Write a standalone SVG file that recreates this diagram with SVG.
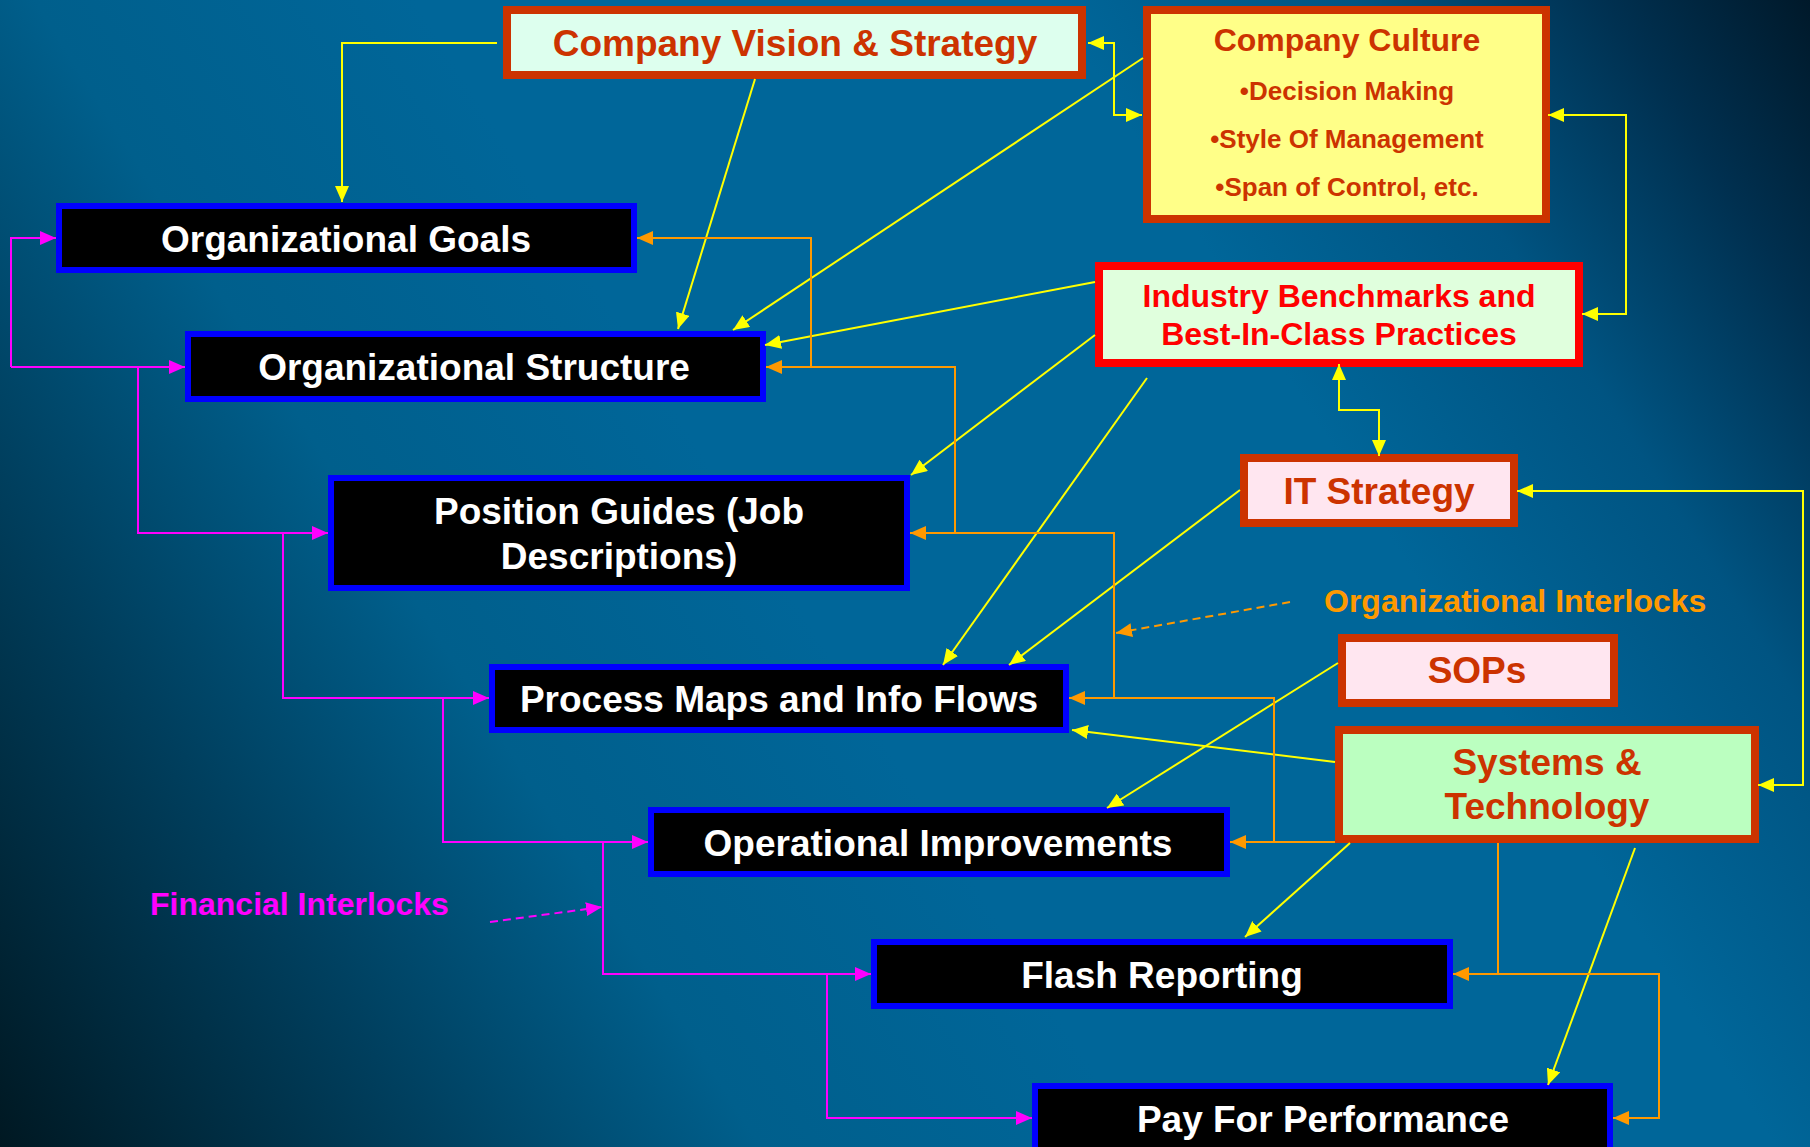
<svg xmlns="http://www.w3.org/2000/svg" width="1810" height="1147" viewBox="0 0 1810 1147">
  <defs>
    <linearGradient id="bg" gradientUnits="userSpaceOnUse" x1="0" y1="1147" x2="1810" y2="0">
      <stop offset="0" stop-color="#001822"/>
      <stop offset="0.17" stop-color="#003f5e"/>
      <stop offset="0.3" stop-color="#005f8c"/>
      <stop offset="0.45" stop-color="#006699"/>
      <stop offset="0.7" stop-color="#006699"/>
      <stop offset="0.82" stop-color="#005482"/>
      <stop offset="0.92" stop-color="#003050"/>
      <stop offset="1" stop-color="#00192a"/>
    </linearGradient>
    <marker id="ay" viewBox="0 0 16 14" refX="16" refY="7" markerWidth="16" markerHeight="14" markerUnits="userSpaceOnUse" orient="auto-start-reverse">
      <path d="M0,0 L16,7 L0,14 z" fill="#FFFF00"/>
    </marker>
    <marker id="ao" viewBox="0 0 16 14" refX="16" refY="7" markerWidth="16" markerHeight="14" markerUnits="userSpaceOnUse" orient="auto">
      <path d="M0,0 L16,7 L0,14 z" fill="#FF9900"/>
    </marker>
    <marker id="am" viewBox="0 0 16 14" refX="16" refY="7" markerWidth="16" markerHeight="14" markerUnits="userSpaceOnUse" orient="auto">
      <path d="M0,0 L16,7 L0,14 z" fill="#FF00FF"/>
    </marker>
  </defs>
  <style>
    text { font-family: "Liberation Sans", Arial, Helvetica, sans-serif; font-weight: bold; text-anchor: middle; }
    .dark rect { fill: #000000; stroke: #0000FF; stroke-width: 6; }
    .dark text { fill: #FFFFFF; font-size: 37px; }
    .warm rect { stroke: #CC3300; stroke-width: 8; }
    .warm text { fill: #CC3300; font-size: 37px; }
    .y { fill: none; stroke: #FFFF00; stroke-width: 2; marker-end: url(#ay); }
    .yy { fill: none; stroke: #FFFF00; stroke-width: 2; marker-start: url(#ay); marker-end: url(#ay); }
    .o { fill: none; stroke: #FF9900; stroke-width: 2; marker-end: url(#ao); }
    .m { fill: none; stroke: #FF00FF; stroke-width: 2; marker-end: url(#am); }
    .dash { stroke-dasharray: 8 5; }
    .label { font-size: 32px; text-anchor: start; }
  </style>

  <rect x="0" y="0" width="1810" height="1147" fill="url(#bg)"/>

  <!-- upper (warm) nodes -->
  <g id="company-vision" class="warm">
    <rect x="507" y="10" width="575" height="65" fill="#DDFFEE"/>
    <text x="795" y="56">Company Vision &amp; Strategy</text>
  </g>
  <g id="company-culture" class="warm">
    <rect x="1147" y="10" width="399" height="209" fill="#FFFF88"/>
    <text x="1347" y="51" style="font-size:32px">Company Culture</text>
    <text x="1347" y="100" style="font-size:26px">•Decision Making</text>
    <text x="1347" y="148" style="font-size:26px">•Style Of Management</text>
    <text x="1347" y="196" style="font-size:26px">•Span of Control, etc.</text>
  </g>
  <g id="industry-benchmarks" class="warm">
    <rect x="1099" y="266" width="480" height="97" fill="#E0FFDD" style="stroke:#FF0000"/>
    <text x="1339" y="307" style="font-size:32px;fill:#FF0000">Industry Benchmarks and</text>
    <text x="1339" y="345" style="font-size:32px;fill:#FF0000">Best-In-Class Practices</text>
  </g>
  <g id="it-strategy" class="warm">
    <rect x="1244" y="458" width="270" height="65" fill="#FFE6F0"/>
    <text x="1379" y="504">IT Strategy</text>
  </g>
  <g id="sops" class="warm">
    <rect x="1342" y="638" width="272" height="65" fill="#FFE6F0"/>
    <text x="1477" y="683">SOPs</text>
  </g>
  <g id="systems-technology" class="warm">
    <rect x="1339" y="730" width="416" height="109" fill="#BBFFC0"/>
    <text x="1547" y="775">Systems &amp;</text>
    <text x="1547" y="819">Technology</text>
  </g>

  <!-- cascade of organisational nodes -->
  <g id="org-goals" class="dark">
    <rect x="59" y="206" width="575" height="64"/>
    <text x="346" y="252">Organizational Goals</text>
  </g>
  <g id="org-structure" class="dark">
    <rect x="188" y="334" width="575" height="65"/>
    <text x="474" y="380">Organizational Structure</text>
  </g>
  <g id="position-guides" class="dark">
    <rect x="331" y="478" width="576" height="110"/>
    <text x="619" y="524">Position Guides (Job</text>
    <text x="619" y="569">Descriptions)</text>
  </g>
  <g id="process-maps" class="dark">
    <rect x="492" y="667" width="574" height="63"/>
    <text x="779" y="712">Process Maps and Info Flows</text>
  </g>
  <g id="operational-improvements" class="dark">
    <rect x="651" y="810" width="576" height="64"/>
    <text x="938" y="856">Operational Improvements</text>
  </g>
  <g id="flash-reporting" class="dark">
    <rect x="874" y="942" width="576" height="64"/>
    <text x="1162" y="988">Flash Reporting</text>
  </g>
  <g id="pay-for-performance" class="dark">
    <rect x="1035" y="1086" width="575" height="70"/>
    <text x="1323" y="1132">Pay For Performance</text>
  </g>

  <!-- interlock labels -->
  <g id="organizational-interlocks">
    <text class="label" x="1324" y="612" fill="#FF9900">Organizational Interlocks</text>
  </g>
  <g id="financial-interlocks">
    <text class="label" x="150" y="915" fill="#FF00FF">Financial Interlocks</text>
  </g>

  <g id="connectors">
    <!-- yellow influence lines -->
    <path class="y" d="M497,43 H342 V202"/>
    <path class="y" d="M755,79 L678,329"/>
    <path class="y" d="M1143,58 L733,330"/>
    <path class="yy" d="M1088,43 H1114 V115 H1142"/>
    <path class="y" d="M1095,282 L765,345"/>
    <path class="y" d="M1095,335 L911,475"/>
    <path class="y" d="M1147,378 L943,665"/>
    <path class="y" d="M1240,490 L1009,665"/>
    <path class="yy" d="M1339,364 V410 H1379 V456"/>
    <path class="yy" d="M1548,115 H1626 V314 H1582"/>
    <path class="yy" d="M1517,491 H1803 V785 H1758"/>
    <path class="y" d="M1338,663 L1107,808"/>
    <path class="y" d="M1335,762 L1072,730"/>
    <path class="y" d="M1350,843 L1245,937"/>
    <path class="y" d="M1635,848 L1548,1085"/>

    <!-- orange organisational interlocks -->
    <path class="o" d="M1335,842 H1230"/>
    <path class="o" d="M1274,842 V698 H1069"/>
    <path class="o" d="M1114,698 V533 H910"/>
    <path class="o" d="M955,533 V367 H766"/>
    <path class="o" d="M811,367 V238 H637"/>
    <path class="o" d="M1498,843 V974 H1453"/>
    <path class="o" d="M1498,974 H1659 V1118 H1613"/>
    <path class="o dash" d="M1290,602 L1116,633"/>

    <!-- magenta financial interlocks -->
    <path class="m" d="M11,367 V238 H56"/>
    <path class="m" d="M11,367 H185"/>
    <path class="m" d="M138,367 V533 H328"/>
    <path class="m" d="M283,533 V698 H489"/>
    <path class="m" d="M443,698 V842 H648"/>
    <path class="m" d="M603,842 V974 H871"/>
    <path class="m" d="M827,974 V1118 H1032"/>
    <path class="m dash" d="M490,922 L602,907"/>
  </g>
</svg>
